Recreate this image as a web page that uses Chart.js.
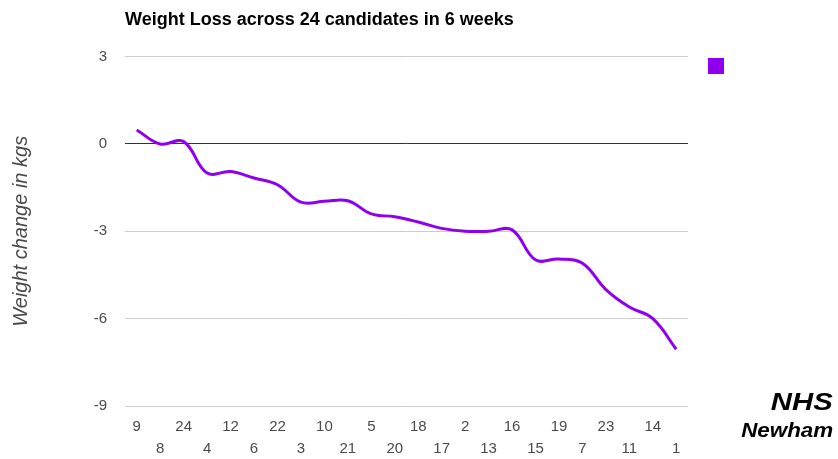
<!DOCTYPE html>
<html><head><meta charset="utf-8">
<script src="https://cdn.jsdelivr.net/npm/chart.js@4/dist/chart.umd.min.js"></script>
<style>
html,body{margin:0;padding:0;background:#fff;}
#wrap{position:relative;width:838px;height:459px;}
#nhs{position:absolute;right:5px;top:389px;font-family:"Liberation Sans",Arial,sans-serif;font-weight:bold;font-style:italic;font-size:24px;color:#000;line-height:26px;transform:scaleX(1.22);transform-origin:right center;}
#newham{position:absolute;right:5px;top:419px;font-family:"Liberation Sans",Arial,sans-serif;font-weight:bold;font-style:italic;font-size:20px;color:#000;line-height:22px;transform:scaleX(1.12);transform-origin:right center;}
</style></head>
<body><div id="wrap"><canvas id="c" width="838" height="459"></canvas>
<div id="nhs">NHS</div><div id="newham">Newham</div></div>
<script>
const categories = ['9','8','24','4','12','6','22','3','10','21','5','20','18','17','2','13','16','15','19','7','23','11','14','1'];
const weightChange = [0.48,0.0,0.08,-1.0,-0.95,-1.17,-1.4,-2.0,-1.97,-1.95,-2.4,-2.5,-2.68,-2.9,-3.0,-3.0,-2.95,-3.98,-3.95,-4.1,-5.0,-5.6,-6.0,-7.05];
const yTicks = [3,0,-3,-6,-9];
const lineColor = '#8e00ee';
const FONT = '"Liberation Sans", Arial, sans-serif';

const swatch = {
  id:'swatch',
  afterDraw(chart){
    const ctx = chart.ctx;
    ctx.save();
    ctx.fillStyle = chart.data.datasets[0].borderColor;
    ctx.fillRect(708,58,16,16);
    ctx.restore();
  }
};

new Chart(document.getElementById('c'), {
  type:'line',
  data:{labels:categories,datasets:[{label:'',data:weightChange,borderColor:lineColor,backgroundColor:lineColor,borderWidth:3,pointRadius:0,tension:0.4,fill:false}]},
  options:{
    responsive:false,animation:false,
    layout:{padding:{left:0,right:150,top:0,bottom:0}},
    plugins:{
      legend:{display:false},tooltip:{enabled:false},
      title:{display:true,text:'Weight Loss across 24 candidates in 6 weeks',align:'start',fullSize:false,
        color:'#000',font:{family:FONT,size:18,weight:'bold',lineHeight:1.2},
        padding:{top:9,bottom:26}}
    },
    scales:{
      x:{offset:true,
        grid:{display:false,drawTicks:false},border:{display:false},
        ticks:{autoSkip:false,maxRotation:0,minRotation:0,padding:10,color:'#4a4a4a',
          font:{family:FONT,size:15,lineHeight:1.47},
          callback:(v,i)=> i%2===0 ? categories[i] : ['',categories[i]]},
        afterFit:s=>{s.height=53;}
      },
      y:{min:-9,max:3,
        afterBuildTicks:s=>{s.ticks=yTicks.map(v=>({value:v}));},
        grid:{drawTicks:false,color:c=>c.tick&&c.tick.value===0?'#333':'#ccc',lineWidth:1},
        border:{display:false},
        ticks:{padding:18,color:'#4a4a4a',font:{family:FONT,size:15}},
        title:{display:true,text:'Weight change in kgs',color:'#4a4a4a',
          font:{family:FONT,size:20,style:'italic',lineHeight:1.2},padding:{top:9,bottom:0}},
        afterFit:s=>{s.width=125;}
      }
    }
  },
  plugins:[swatch]
});
</script></body></html>
